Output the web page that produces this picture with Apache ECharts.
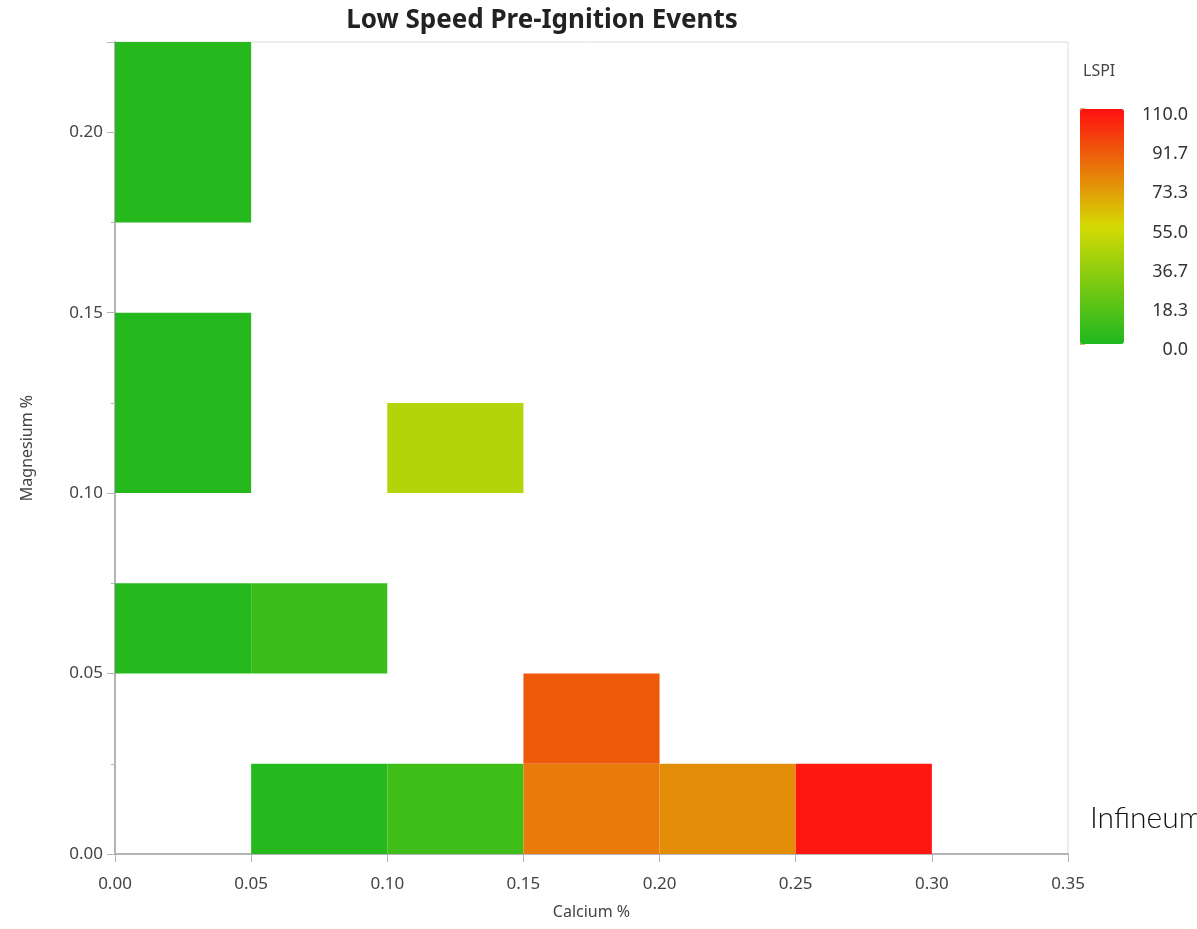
<!DOCTYPE html>
<html>
<head>
<meta charset="utf-8">
<script src="https://cdn.jsdelivr.net/npm/echarts@6/dist/echarts.min.js"></script>
<style>html,body{margin:0;padding:0;background:#fff;}#chart{width:1197px;height:929px;}</style>
</head>
<body>
<div id="chart"></div>
<script>
// Bin edges (Calcium %, Magnesium %) and LSPI counts per cell
const calciumLow  = [0.00, 0.00, 0.10, 0.00, 0.05, 0.15, 0.05, 0.10, 0.15, 0.20, 0.25];
const calciumHigh = [0.05, 0.05, 0.15, 0.05, 0.10, 0.20, 0.10, 0.15, 0.20, 0.25, 0.30];
const magnesiumLow  = [0.175, 0.100, 0.100, 0.050, 0.050, 0.025, 0.000, 0.000, 0.000, 0.000, 0.000];
const magnesiumHigh = [0.225, 0.150, 0.125, 0.075, 0.075, 0.050, 0.025, 0.025, 0.025, 0.025, 0.025];
const lspi = [2, 2, 45, 2, 8, 90, 2, 10, 81, 76, 108];
const xTicks = ['0.00','0.05','0.10','0.15','0.20','0.25','0.30','0.35'];
const colorbarLabels = ['0.0','18.3','36.7','55.0','73.3','91.7','110.0'];
const lspiMin = 0, lspiMax = 110;

const cells = lspi.map((v, i) => [calciumLow[i], calciumHigh[i], magnesiumLow[i], magnesiumHigh[i], v]);

const font = 'Noto Sans, sans-serif';
const chart = echarts.init(document.getElementById('chart'));
chart.setOption({
  animation: false,
  backgroundColor: '#fff',
  title: [{
    text: 'Low Speed Pre-Ignition Events',
    left: 537, top: 3, textAlign: 'center',
    textStyle: {fontFamily: font, fontSize: 26, fontWeight: 'bold', color: '#222'}
  }, {
    text: 'LSPI', left: 1078, top: 58,
    textStyle: {fontFamily: font, fontSize: 16, fontWeight: 'normal', color: '#444'}
  }],
  grid: [{
    left: 115, right: 129, top: 42, bottom: 75,
    show: true, borderColor: '#dcdcdc', borderWidth: 1, backgroundColor: 'transparent'
  }, {
    left: 1080, top: 109, width: 45, height: 235
  }],
  xAxis: [{
    type: 'value', min: 0, max: 0.35, interval: 0.05,
    name: 'Calcium %', nameLocation: 'middle', nameGap: 50,
    nameTextStyle: {fontFamily: font, fontSize: 16, color: '#444'},
    axisLine: {show: true, onZero: false, lineStyle: {color: '#b4b4b4', width: 2}},
    axisTick: {show: true, length: 8, lineStyle: {color: '#b4b4b4'}},
    axisLabel: {fontFamily: font, fontSize: 17, color: '#444', margin: 22,
      formatter: v => xTicks[Math.round(v / 0.05)] || v.toFixed(2)},
    splitLine: {show: false}
  }, {
    gridIndex: 1, type: 'value', min: 0, max: 1, show: false
  }],
  yAxis: [{
    type: 'value', min: 0, max: 0.225, interval: 0.05,
    name: 'Magnesium %', nameLocation: 'middle', nameGap: 80,
    nameTextStyle: {fontFamily: font, fontSize: 16, color: '#444'},
    axisLine: {show: true, onZero: false, lineStyle: {color: '#b4b4b4', width: 2}},
    axisTick: {show: true, length: 8, lineStyle: {color: '#b4b4b4'}},
    minorTick: {show: true, splitNumber: 2, length: 4, lineStyle: {color: '#b4b4b4'}},
    axisLabel: {fontFamily: font, fontSize: 17, color: '#444', margin: 12, showMaxLabel: false,
      formatter: v => v.toFixed(2)},
    splitLine: {show: false}
  }, {
    gridIndex: 1, type: 'value', min: 0, max: 6, interval: 1, position: 'right',
    axisLine: {show: true, lineStyle: {color: '#9cbf40', width: 1}},
    axisTick: {show: true, length: 5, lineStyle: {color: '#d89a40', width: 1.5}},
    axisLabel: {fontFamily: font, fontSize: 18, color: '#333', margin: 63, align: 'right',
      verticalAlign: 'top', lineHeight: 12, formatter: v => colorbarLabels[Math.round(v)]},
    splitLine: {show: false}
  }],
  visualMap: {
    type: 'continuous', min: lspiMin, max: lspiMax, dimension: 4, seriesIndex: 0,
    orient: 'vertical', left: 1080, top: 109, itemWidth: 44, itemHeight: 235,
    padding: 0, calculable: false, text: null, showLabel: false,
    inRange: {color: ['#1EB81F', '#D4DA04', '#FF1010']}
  },
  graphic: [{
    type: 'text', left: 1090, top: 803,
    style: {text: 'Infineum', font: '300 30px Lato, sans-serif', fill: '#111'}
  }],
  series: [{
    type: 'custom',
    coordinateSystem: 'cartesian2d',
    data: cells,
    encode: {x: [0, 1], y: [2, 3]},
    renderItem: function (params, api) {
      const p0 = api.coord([api.value(0), api.value(3)]);
      const p1 = api.coord([api.value(1), api.value(2)]);
      return {
        type: 'rect',
        shape: {x: p0[0], y: p0[1], width: p1[0] - p0[0], height: p1[1] - p0[1]},
        style: {fill: api.visual('color')}
      };
    }
  }]
});
</script>
</body>
</html>
